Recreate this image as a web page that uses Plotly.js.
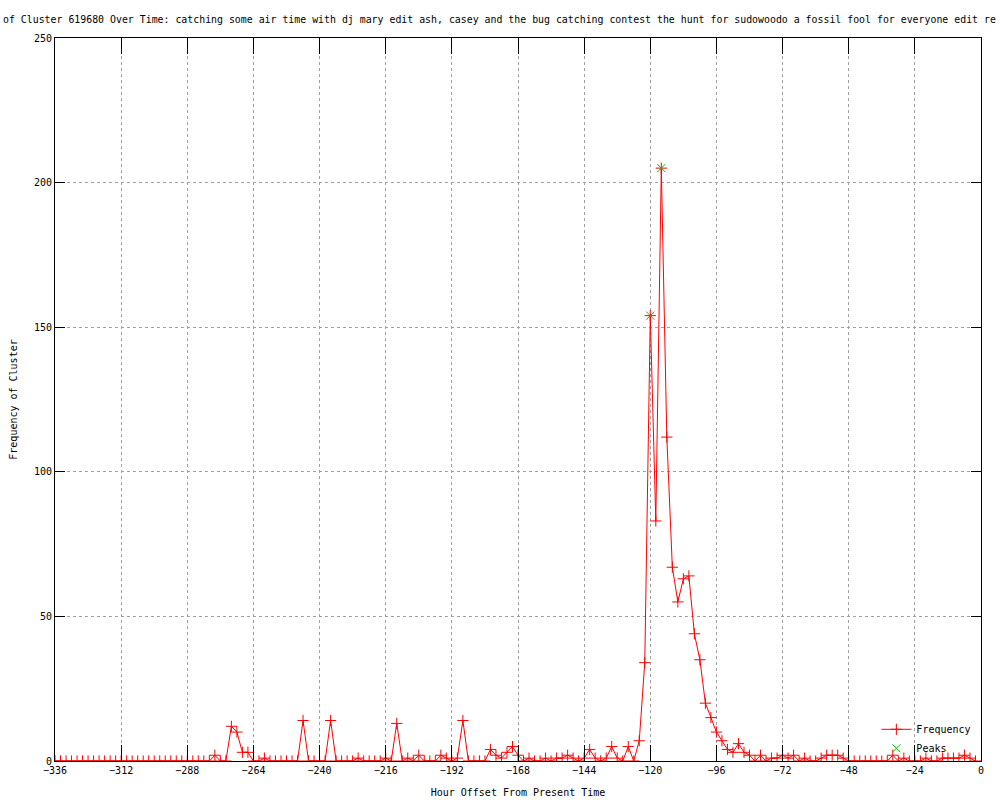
<!DOCTYPE html>
<html>
<head>
<meta charset="utf-8">
<script src="https://cdn.plot.ly/plotly-3.0.1.min.js"></script>
<style>
  html, body { margin: 0; padding: 0; background: #fff; }
  #chart { width: 1000px; height: 800px; }
</style>
</head>
<body>
<div id="chart"></div>
<script>
const hours = [
  -336,-334,-332,-330,-328,-326,-324,-322,-320,-318,-316,-314,
  -312,-310,-308,-306,-304,-302,-300,-298,-296,-294,-292,-290,
  -288,-286,-284,-282,-280,-278,-276,-274,-272,-270,-268,-266,
  -264,-262,-260,-258,-256,-254,-252,-250,-248,-246,-244,-242,
  -240,-238,-236,-234,-232,-230,-228,-226,-224,-222,-220,-218,
  -216,-214,-212,-210,-208,-206,-204,-202,-200,-198,-196,-194,
  -192,-190,-188,-186,-184,-182,-180,-178,-176,-174,-172,-170,
  -168,-166,-164,-162,-160,-158,-156,-154,-152,-150,-148,-146,
  -144,-142,-140,-138,-136,-134,-132,-130,-128,-126,-124,-122,
  -120,-118,-116,-114,-112,-110,-108,-106,-104,-102,-100,-98,
  -96,-94,-92,-90,-88,-86,-84,-82,-80,-78,-76,-74,
  -72,-70,-68,-66,-64,-62,-60,-58,-56,-54,-52,-50,
  -48,-46,-44,-42,-40,-38,-36,-34,-32,-30,-28,-26,
  -24,-22,-20,-18,-16,-14,-12,-10,-8,-6,-4,-2
];
const frequency = [
  0,0,0,0,0,0,0,0,0,0,0,0,
  0,0,0,0,0,0,0,0,0,0,0,0,
  0,0,0,0,0,2,0,0,12,10,3,3,
  0,0,1,0,0,0,0,0,0,14,0,0,
  0,0,14,0,0,0,0,1,0,0,0,0,
  1,0,13,0,1,0,2,0,0,0,2,1,
  0,1,14,0,0,0,0,4,2,1,3,5,
  2,0,1,0,0,1,0,1,1,2,1,0,
  1,4,1,0,1,5,1,0,5,0,7,34,
  154,83,205,112,67,55,63,64,44,35,20,15,
  10,7,4,3,6,3,2,0,2,0,1,1,
  2,1,2,0,1,0,0,1,2,2,2,1,
  0,0,0,0,0,0,0,0,2,0,1,0,
  0,0,1,0,0,1,1,1,1,2,1,0
];
const peakHours = [-120, -116];
const peakValues = [154, 205];
const xTicks = [-336,-312,-288,-264,-240,-216,-192,-168,-144,-120,-96,-72,-48,-24,0];
const yTicks = [0,50,100,150,200,250];

const titleText = "of Cluster 619680 Over Time: catching some air time with dj mary edit ash, casey and the bug catching contest the hunt for sudowoodo a fossil fool for everyone edit re";
const FONT = "DejaVu Sans Mono, monospace";

const traces = [
  {
    x: hours, y: frequency, type: 'scatter', mode: 'lines+markers', name: 'Frequency',
    line: {color: '#ff0000', width: 1},
    marker: {symbol: 'cross-thin', size: 8, color: '#ff0000', line: {color: '#ff0000', width: 1}},
    cliponaxis: true
  },
  {
    x: peakHours, y: peakValues, type: 'scatter', mode: 'markers', name: 'Peaks',
    marker: {symbol: 'x-thin', size: 8, color: '#00c000', line: {color: '#00c000', width: 1}},
    cliponaxis: true
  }
];

const axisCommon = {
  showline: true, linecolor: '#000', linewidth: 1, mirror: 'ticks',
  ticks: 'inside', tickcolor: '#000', tickwidth: 1,
  showgrid: true, gridcolor: '#a0a0a0', gridwidth: 1, griddash: 'dot',
  zeroline: false, tickfont: {family: FONT, size: 10, color: '#000'}
};

const layout = {
  width: 1000, height: 800,
  paper_bgcolor: '#fff', plot_bgcolor: '#fff',
  margin: {l: 55, r: 19, t: 38, b: 39, pad: 0},
  font: {family: FONT, size: 10, color: '#000'},
  title: {
    text: titleText, font: {family: FONT, size: 9.9, color: '#000'},
    xref: 'container', x: 0.003, xanchor: 'left',
    yref: 'container', y: 0.976, yanchor: 'middle', pad: {t: 0, b: 0, l: 0, r: 0}
  },
  xaxis: Object.assign({}, axisCommon, {
    range: [-336, 0], tickmode: 'array', tickvals: xTicks, ticklen: 16,
    title: {text: 'Hour Offset From Present Time', font: {family: FONT, size: 10}, standoff: 13}
  }),
  yaxis: Object.assign({}, axisCommon, {
    range: [0, 250], tickmode: 'array', tickvals: yTicks, ticklen: 10,
    title: {text: 'Frequency of Cluster', font: {family: FONT, size: 10}, standoff: 14}
  }),
  showlegend: true,
  legend: {
    x: 0.995, xanchor: 'right', y: -0.0025, yanchor: 'bottom',
    bgcolor: 'rgba(0,0,0,0)', borderwidth: 0,
    font: {family: FONT, size: 10, color: '#000'},
    tracegroupgap: 0, itemwidth: 30
  }
};

Plotly.newPlot('chart', traces, layout, {displayModeBar: false, staticPlot: true});
</script>
</body>
</html>
